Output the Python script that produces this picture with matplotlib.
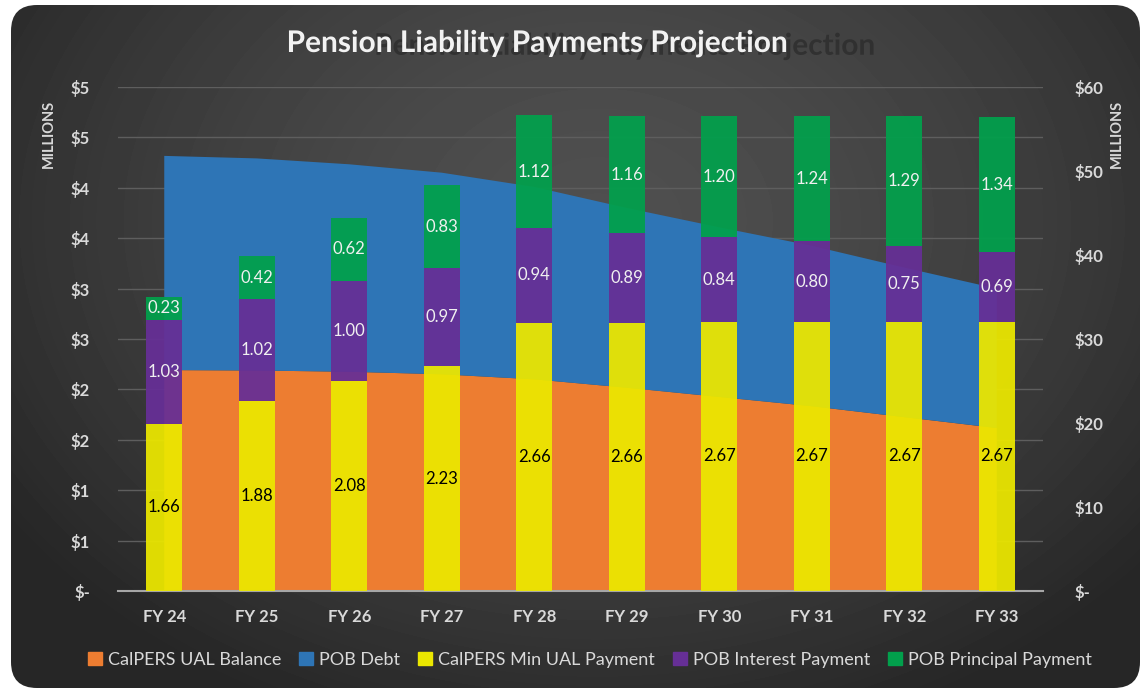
"""Pension liability payments projection: stacked bars over a stacked area."""

import matplotlib

matplotlib.use("Agg")

import matplotlib.patheffects as pe
import matplotlib.pyplot as plt
import numpy as np
from matplotlib.patches import FancyBboxPatch, Patch
from matplotlib.ticker import FixedLocator, FuncFormatter

# ---- data (millions) ----
years = ["FY 24", "FY 25", "FY 26", "FY 27", "FY 28", "FY 29", "FY 30", "FY 31", "FY 32", "FY 33"]
ual_balance = [26.3, 26.25, 26.1, 25.8, 25.2, 24.2, 23.1, 22.0, 20.7, 19.4]
pob_debt = [25.5, 25.25, 24.7, 24.0, 22.9, 21.4, 20.2, 19.1, 17.8, 16.6]
min_ual_payment = [1.66, 1.88, 2.08, 2.23, 2.66, 2.66, 2.67, 2.67, 2.67, 2.67]
pob_interest = [1.03, 1.02, 1.00, 0.97, 0.94, 0.89, 0.84, 0.80, 0.75, 0.69]
pob_principal = [0.23, 0.42, 0.62, 0.83, 1.12, 1.16, 1.20, 1.24, 1.29, 1.34]

ORANGE = "#ed7d31"
BLUE = "#2e75b6"
YELLOW = "#ebe700"
PURPLE = "#662f96"
GREEN = "#02a04c"
TEXT = "#d9d9d9"
FONT = "Lato"

W, H = 1148, 690
fig = plt.figure(figsize=(W / 100, H / 100), dpi=100)
fig.patch.set_facecolor("white")

# ---- dark rounded background with radial gradient ----
bg = fig.add_axes([0, 0, 1, 1])
bg.set_xlim(0, W)
bg.set_ylim(H, 0)
bg.axis("off")
yy, xx = np.mgrid[0:H, 0:W]
d = np.sqrt(((xx / W - 0.52) / 0.62) ** 2 + ((yy / H - 0.32) / 0.78) ** 2)
shade = 0.31 - (0.31 - 0.15) * np.clip(d, 0, 1) ** 1.6
img = bg.imshow(shade, cmap="gray", vmin=0, vmax=1, extent=(0, W, H, 0), zorder=0)
box = FancyBboxPatch((11, 5), 1129, 683, boxstyle="round,pad=0,rounding_size=26",
                     facecolor="none", edgecolor="none", transform=bg.transData)
bg.add_patch(box)
img.set_clip_path(box)

# ---- plot axes: area (right scale) underneath, bars (left scale) on top ----
ax_area = fig.add_axes([118 / W, 1 - 591 / H, 925 / W, 504 / H])
ax_area.patch.set_visible(False)
ax_bar = ax_area.twinx()
ax_area.yaxis.tick_right()
ax_bar.yaxis.tick_left()

x = np.arange(len(years))

# gridlines follow the left axis (every 0.5 = 6 on the right scale), behind the area
for gy in np.arange(6, 61, 6):
    ax_area.axhline(gy, color="#5e5e5e", lw=1.0, zorder=0)

ax_area.stackplot(x, ual_balance, pob_debt, colors=[ORANGE, BLUE], zorder=2)
ax_area.set_ylim(0, 60)
ax_area.set_xlim(-0.5, len(years) - 0.5)

bar_w = 0.39
bottom = np.zeros(len(years))
for vals, color, tcolor in [
    (min_ual_payment, YELLOW, "black"),
    (pob_interest, PURPLE, "#f0f0f0"),
    (pob_principal, GREEN, "#f0f0f0"),
]:
    vals = np.array(vals)
    ax_bar.bar(x, vals, bar_w, bottom=bottom, color=color, alpha=0.94, zorder=3)
    for xi, b, v in zip(x, bottom, vals):
        ax_bar.text(xi, b + v / 2, f"{v:.2f}", ha="center", va="center",
                    color=tcolor, fontsize=12, family=FONT, zorder=4)
    bottom = bottom + vals
ax_bar.set_ylim(0, 5)

# ---- ticks ----
left_ticks = np.arange(0, 5.01, 0.5)
ax_bar.yaxis.set_major_locator(FixedLocator(left_ticks))
ax_bar.yaxis.set_major_formatter(
    FuncFormatter(lambda v, p: "$-" if v == 0 else f"${int(np.floor(v + 0.5))}"))
ax_area.yaxis.set_major_locator(FixedLocator(np.arange(0, 61, 10)))
ax_area.yaxis.set_major_formatter(
    FuncFormatter(lambda v, p: "$-" if v == 0 else f"${v:.0f}"))
ax_area.set_xticks(x)
ax_area.set_xticklabels(years)

for a in (ax_area, ax_bar):
    a.tick_params(length=0, colors=TEXT, labelsize=12)
    for s in a.spines.values():
        s.set_visible(False)
    for lab in a.get_xticklabels() + a.get_yticklabels():
        lab.set_fontfamily(FONT)
        lab.set_fontweight("bold")
ax_bar.tick_params(axis="y", pad=20)
ax_area.tick_params(axis="y", pad=23)
ax_area.tick_params(axis="x", pad=13)
ax_bar.spines["bottom"].set_visible(True)
ax_bar.spines["bottom"].set_color("#a6a6a6")
ax_bar.spines["bottom"].set_linewidth(1.5)

# display-unit labels
for fx in (49 / W, 1117 / W):
    fig.text(fx, 1 - 134 / H, "MILLIONS", rotation=90, ha="center", va="center",
             color=TEXT, fontsize=10.5, fontweight="bold", family=FONT)

# ---- title with faint offset reflection (drawn as a path-effect shadow) ----
fig.text(537 / W, 1 - 43 / H, "Pension Liability Payments Projection",
         ha="center", va="center", color="#f2f2f2", fontsize=21.5,
         fontweight="bold", family=FONT,
         path_effects=[pe.SimplePatchShadow(offset=(63, -2), shadow_rgbFace="#2b2b2b",
                                            alpha=0.75),
                       pe.Normal()])

# ---- legend ----
handles = [Patch(color=c) for c in (ORANGE, BLUE, YELLOW, PURPLE, GREEN)]
labels = ["CalPERS UAL Balance", "POB Debt", "CalPERS Min UAL Payment",
          "POB Interest Payment", "POB Principal Payment"]
leg = fig.legend(handles, labels, loc="center", bbox_to_anchor=(590 / W, 1 - 660 / H),
                 ncol=5, frameon=False, handlelength=0.75, handleheight=0.75,
                 handletextpad=0.35, columnspacing=1.0,
                 prop={"family": FONT, "size": 13})
for t in leg.get_texts():
    t.set_color(TEXT)

fig.savefig("out.png", dpi=100)
